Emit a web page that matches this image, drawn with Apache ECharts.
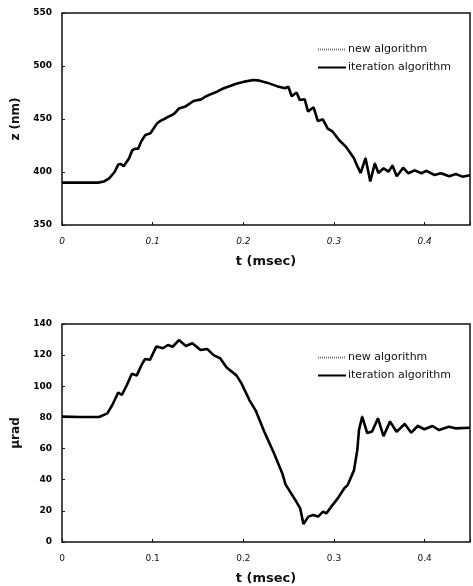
<!DOCTYPE html>
<html>
<head>
<meta charset="utf-8">
<script src="https://cdn.jsdelivr.net/npm/echarts@6/dist/echarts.min.js"></script>
<style>
html,body{margin:0;padding:0;background:#fff;}
#chart{width:473px;height:586px;}
</style>
</head>
<body>
<div id="chart"></div>
<script>
// ---- Top chart: z (nm) vs t (msec)
const tTop = [0,0.02,0.04,0.046,0.052,0.058,0.062,0.065,0.068,0.074,0.0775,0.081,0.084,0.0875,0.092,0.0975,0.101,0.105,0.109,0.114,0.118,0.122,0.125,0.129,0.1355,0.14,0.145,0.1535,0.158,0.163,0.1715,0.177,0.183,0.193,0.2,0.211,0.218,0.226,0.237,0.246,0.2497,0.2533,0.2587,0.2623,0.2677,0.2714,0.2775,0.2822,0.2877,0.2931,0.2986,0.3058,0.313,0.318,0.322,0.3255,0.3293,0.3348,0.34,0.345,0.349,0.3547,0.36,0.3645,0.3692,0.3764,0.382,0.389,0.3964,0.4018,0.4109,0.418,0.427,0.4345,0.4416,0.45];
const zIter = [390,390,390,391,394,400,407,407.5,405.5,413,420.5,422,422,429,435,436.5,441,446,448.5,450.5,452.5,454,456,460,461.5,464,467,468.5,471,473,476,478.5,480.5,483.5,485,486.8,486.2,484.3,481,479,480.5,471.5,475,468,468.6,457,461,448,449.7,441,438,430,424,418,413,406,399,413,391,408,399,403.5,400.3,406,396,404,398.8,401.5,398.8,401,397.2,398.8,396,398,395.6,397];
const zNew  = [390,390,390,391,394,400,407,407.5,405.5,413,420.5,422,422,429,435,436.5,441,446,448.5,450.5,452.5,454,456,460,461.5,464,467,468.5,471,473,476,478.5,480.5,483.5,485,486.8,486.2,484.3,481,479,480.5,471.5,475,468,468.6,457,461,448,449.7,441,438,430,424,418,413.5,407,400,415,392,410,399.5,404,400.5,408,396.5,406,399,403,399,402.5,397.5,400,396.5,399.5,396,398];

// ---- Bottom chart: µrad vs t (msec)
const tBot = [0,0.02,0.041,0.05,0.0555,0.062,0.066,0.0717,0.077,0.0825,0.088,0.0915,0.097,0.104,0.1114,0.1168,0.122,0.129,0.1366,0.1438,0.1528,0.16,0.1672,0.1744,0.1816,0.1924,0.1978,0.2068,0.214,0.223,0.2338,0.243,0.2465,0.2573,0.2627,0.2663,0.2717,0.2771,0.2825,0.2879,0.2915,0.297,0.3041,0.3114,0.315,0.322,0.3257,0.3276,0.3311,0.3366,0.342,0.3485,0.3546,0.3618,0.369,0.378,0.3852,0.3924,0.3997,0.4086,0.4159,0.4267,0.4338,0.45];
const radIter = [80.5,80.3,80.3,82.6,88,96,94.4,101,108,107,114,117.5,117,125.5,124.4,126.5,125.4,129.7,125.9,127.6,123.3,124,120,118,112,107,102,91,84,71,57,44,37,27,21.6,11.6,16.3,17.3,16.3,19.5,18.4,22.7,28,34.5,36.5,46,59,72,80.5,70,71,79.4,68,77.3,70.8,75.8,70.2,74.5,72.4,74.5,71.9,74,73,73.4];
const radNew  = [80.5,80.3,80.3,82.6,88,96,94.4,101,108,107,114,117.5,117,125.5,124.4,126.5,125.4,129.7,125.9,127.6,123.3,124,120,118,112,107,102,91,84,71,57,44,37,27,21.6,11.6,16.3,17.3,16.3,19.5,18.4,22.7,28,34.5,36.5,46,59,72,81.5,70.5,71.5,80.5,68.5,78.5,71,77,70.5,75.5,72.8,75,72.2,74.5,73.2,73.6];

const xTicks = [0,0.1,0.2,0.3,0.4];
const zTicks = [350,400,450,500,550];
const radTicks = [0,20,40,60,80,100,120,140];
const seriesNames = ['new algorithm','iteration algorithm'];

const pair = (ts, vs) => ts.map((t,i)=>[t,vs[i]]);
const FONT = 'DejaVu Sans';

function xAxisCfg(gridIndex, italic){
  return {
    type:'value', gridIndex, min:xTicks[0], max:0.45, interval:0.1,
    axisLine:{show:false}, splitLine:{show:false},
    axisTick:{show:true, inside:true, length:3, lineStyle:{color:'#111'}},
    axisLabel:{margin:12, color:'#111', fontFamily:FONT, fontSize:9, fontStyle: italic?'italic':'normal',
      formatter:v => xTicks.some(t=>Math.abs(t-v)<1e-9) ? (v===0?'0':v.toFixed(1)) : ''},
    name:'t (msec)', nameLocation:'middle', nameGap:30,
    nameTextStyle:{color:'#111', fontFamily:FONT, fontSize:13, fontWeight:'bold'}
  };
}
function yAxisCfg(gridIndex, ticks, name){
  return {
    type:'value', gridIndex, min:ticks[0], max:ticks[ticks.length-1], interval:ticks[1]-ticks[0],
    axisLine:{show:false}, splitLine:{show:false},
    axisTick:{show:true, inside:true, length:3, lineStyle:{color:'#111'}},
    axisLabel:{margin:10, color:'#000', fontFamily:FONT, fontSize:9, fontWeight:'bold'},
    name, nameLocation:'middle', nameGap:33, nameRotate:90,
    nameTextStyle:{color:'#111', fontFamily:FONT, fontSize:12, fontWeight:'bold'}
  };
}
function seriesPair(xi, yi, newData, iterData){
  return [
    {name:seriesNames[0], type:'line', xAxisIndex:xi, yAxisIndex:yi, data:newData, symbol:'none',
     itemStyle:{color:'#777'}, lineStyle:{color:'#777', width:1, type:[1,1]}, z:1, animation:false},
    {name:seriesNames[1], type:'line', xAxisIndex:xi, yAxisIndex:yi, data:iterData, symbol:'none',
     itemStyle:{color:'#000'}, lineStyle:{color:'#000', width:2.6}, z:2, animation:false}
  ];
}
function legendCfg(top){
  return {
    data:seriesNames, orient:'vertical', left:312, top, itemWidth:28, itemHeight:10, itemGap:7,
    itemStyle:{opacity:0, borderWidth:0},
    textStyle:{color:'#111', fontFamily:FONT, fontSize:11, padding:[0,0,0,-3]}
  };
}

const chart = echarts.init(document.getElementById('chart'), null, {renderer:'canvas'});
chart.setOption({
  backgroundColor:'#fff',
  animation:false,
  grid:[
    {left:62, top:13, width:414, height:212, show:true, borderColor:'#111', borderWidth:1.5, backgroundColor:'transparent'},
    {left:62, top:324, width:414, height:218, show:true, borderColor:'#111', borderWidth:1.5, backgroundColor:'transparent'}
  ],
  xAxis:[xAxisCfg(0,true), xAxisCfg(1,false)],
  yAxis:[yAxisCfg(0, zTicks, 'z (nm)'), yAxisCfg(1, radTicks, 'µrad')],
  legend:[legendCfg(39), legendCfg(347)],
  series:[
    ...seriesPair(0,0,pair(tTop,zNew),pair(tTop,zIter)),
    ...seriesPair(1,1,pair(tBot,radNew),pair(tBot,radIter))
  ]
});
</script>
</body>
</html>
